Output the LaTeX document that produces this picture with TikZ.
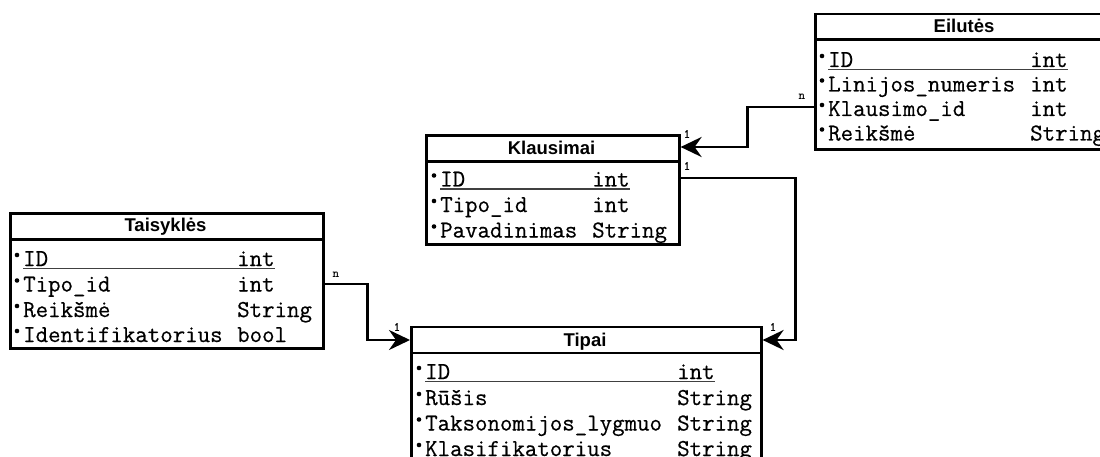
\documentclass[tikz,border=0pt]{standalone}
\usepackage{fontspec}
\newfontfamily\hdrfont{Liberation Sans}
\newfontfamily\fldfont[FakeBold=0.5]{Latin Modern Mono}
\usetikzlibrary{arrows.meta,calc}
\tikzset{
 tbl/.style={draw, line width=2.6pt, inner sep=0, anchor=north west},
 sepline/.style={line width=2.6pt},
 hdrtxt/.style={font=\hdrfont\bfseries\fontsize{18.5}{21}\selectfont, inner sep=0, anchor=base},
 fld/.style={font=\fldfont\fontsize{24.2}{28}\selectfont, inner sep=0, anchor=base west},
 conn/.style={line width=2.6pt, -{Stealth[length=21pt,width=20pt,inset=7pt]}},
 card/.style={font=\fldfont\fontsize{12.5}{14}\selectfont, inner sep=0},
 cardb/.style={font=\ttfamily\bfseries\fontsize{12.5}{14}\selectfont, inner sep=0},
 ul/.style={line width=1.6pt, black!75},
 fdot/.style={fill, circle, inner sep=0, minimum size=4.6pt},
}
\begin{document}
\begin{tikzpicture}[x=1pt,y=-1pt]
\useasboundingbox (0,0) rectangle (1100,457);
\clip (0,0) rectangle (1100,457);
\fill[white] (0,0) rectangle (1100,457);

% ---------- Eilutes
\node[tbl, minimum width=300pt, minimum height=135.3pt] (eil) at (814,12.7) {};
\draw[sepline] (eil.west |- 0,39.5) -- (eil.east |- 0,39.5);
\node[hdrtxt] (eilh) at (964,33) {Eilutės};
\node[fld] (eil1a) at (828,67) {ID};
\node[fld] (eil1b) at (1030,67) {int};
\node[fld] (eil2a) at (828,91.5) {Linijos\_numeris};
\node[fld] (eil2b) at (1030,91.5) {int};
\node[fld] (eil3a) at (828,116) {Klausimo\_id};
\node[fld] (eil3b) at (1030,116) {int};
\node[fld] (eil4a) at (828,140.5) {Reikšmė};
\node[fld] (eil4b) at (1030,140.5) {String};
\draw[ul] (828,69.5) -- (1068,69.5);
\foreach \yy in {67,91.5,116,140.5} \node[fdot] at (822,\yy-11) {};

% ---------- Klausimai
\node[tbl, minimum width=253pt, minimum height=109pt] (kla) at (425,134) {};
\draw[sepline] (kla.west |- 0,161.5) -- (kla.east |- 0,161.5);
\node[hdrtxt] (klah) at (551.5,155) {Klausimai};
\node[fld] (kla1a) at (440,186.5) {ID};
\node[fld] (kla1b) at (592,186.5) {int};
\node[fld] (kla2a) at (440,212) {Tipo\_id};
\node[fld] (kla2b) at (592,212) {int};
\node[fld] (kla3a) at (440,237.5) {Pavadinimas};
\node[fld] (kla3b) at (592,237.5) {String};
\draw[ul] (440,189) -- (630,189);
\foreach \yy in {186.5,212,237.5} \node[fdot] at (434,\yy-11) {};

% ---------- Taisykles
\node[tbl, minimum width=313pt, minimum height=134.5pt] (tai) at (9,212.5) {};
\draw[sepline] (tai.west |- 0,239.5) -- (tai.east |- 0,239.5);
\node[hdrtxt] (taih) at (165.5,232) {Taisyklės};
\node[fld] (tai1a) at (23,266) {ID};
\node[fld] (tai1b) at (237,266) {int};
\node[fld] (tai2a) at (23,291.5) {Tipo\_id};
\node[fld] (tai2b) at (237,291.5) {int};
\node[fld] (tai3a) at (23,317) {Reikšmė};
\node[fld] (tai3b) at (237,317) {String};
\node[fld] (tai4a) at (23,342) {Identifikatorius};
\node[fld] (tai4b) at (237,342) {bool};
\draw[ul] (23,268.5) -- (275,268.5);
\foreach \yy in {266,291.5,317,342} \node[fdot] at (17,\yy-11) {};

% ---------- Tipai
\node[tbl, minimum width=350pt, minimum height=160pt] (tip) at (410,325.5) {};
\draw[sepline] (tip.west |- 0,353) -- (tip.east |- 0,353);
\node[hdrtxt] (tiph) at (585,346) {Tipai};
\node[fld] (tip1a) at (425,379) {ID};
\node[fld] (tip1b) at (677,379) {int};
\node[fld] (tip2a) at (425,405) {Rūšis};
\node[fld] (tip2b) at (677,405) {String};
\node[fld] (tip3a) at (425,430.5) {Taksonomijos\_lygmuo};
\node[fld] (tip3b) at (677,430.5) {String};
\node[fld] (tip4a) at (425,456) {Klasifikatorius};
\node[fld] (tip4b) at (677,456) {String};
\draw[ul] (425,381.5) -- (715,381.5);
\foreach \yy in {379,405,430.5,456} \node[fdot] at (419,\yy-11) {};

% ---------- connectors
\coordinate (c1s) at (eil.west |- 0,107);
\coordinate (c1e) at (kla.east |- 0,147);
\draw[conn] (c1s) -| ($(c1s)!0.5!(c1e)$) |- (c1e);

\coordinate (c2s) at (kla.east |- 0,178);
\coordinate (c2e) at (tip.east |- 0,340);
\draw[conn] (c2s) -- ++(115,0) |- (c2e);

\coordinate (c3s) at (tai.east |- 0,284);
\coordinate (c3e) at (tip.west |- 0,340);
\draw[conn] (c3s) -| ($(c3s)!0.5!(c3e)$) |- (c3e);

% ---------- cardinalities
\node[cardb] (n1) at (802,97) {n};
\node[card] (o1) at (687,134) {1};
\node[card] (o2) at (687,166) {1};
\node[card] (o3) at (773,327) {1};
\node[cardb] (n2) at (336,275) {n};
\node[card] (o4) at (397,327) {1};
\end{tikzpicture}
\end{document}
